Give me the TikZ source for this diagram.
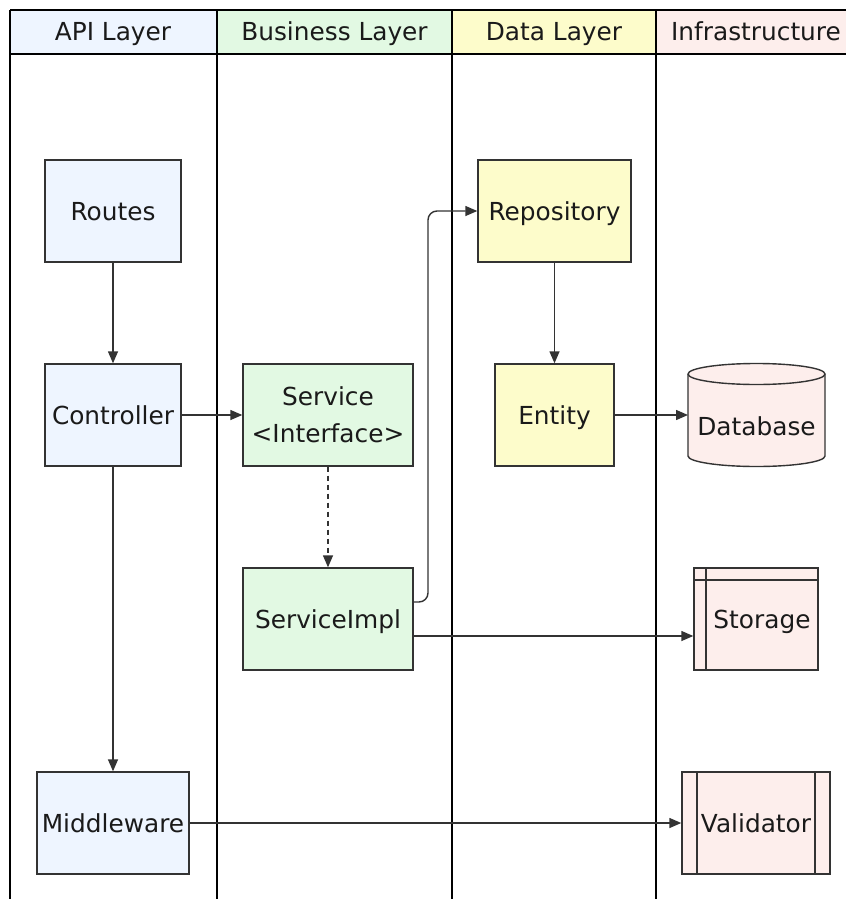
\documentclass[tikz,border=0pt]{standalone}
\usepackage{fontspec}
\setmainfont{DejaVu Sans}
\usetikzlibrary{arrows.meta,calc}
\definecolor{apifill}{HTML}{EEF5FF}
\definecolor{bizfill}{HTML}{E2F9E3}
\definecolor{datafill}{HTML}{FDFCCB}
\definecolor{infrafill}{HTML}{FDEEEC}
\definecolor{ink}{HTML}{333333}
\definecolor{txt}{HTML}{1A1A1A}
\tikzset{
  box/.style={draw=ink, line width=1.4pt, inner sep=0pt, align=center,
    text=txt, font=\fontsize{24.8}{37}\selectfont},
  capc/.style={text height=18pt, text depth=0pt},
  apibox/.style={box, capc, fill=apifill},
  bizbox/.style={box, fill=bizfill},
  databox/.style={box, capc, fill=datafill},
  infrabox/.style={box, capc, fill=infrafill},
  lane/.style={line width=1.3pt, draw=black},
  hdr/.style={text=txt, capc, inner sep=0pt, font=\fontsize{24.8}{28}\selectfont},
  conn/.style={draw=ink, line width=1.4pt, -{Triangle[length=12pt,width=10pt]}},
}
\begin{document}
\begin{tikzpicture}[x=1pt,y=-1pt]
\useasboundingbox (0,0) rectangle (846,899);
\fill[white] (0,0) rectangle (846,899);

% lane headers
\fill[apifill]   (10,10)  rectangle (217,54);
\fill[bizfill]   (217,10) rectangle (452,54);
\fill[datafill]  (452,10) rectangle (656,54);
\fill[infrafill] (656,10) rectangle (846,54);
\node[hdr] (hApi)   at (113,32)   {API Layer};
\node[hdr] (hBiz)   at (334.5,32) {Business Layer};
\node[hdr] (hData)  at (554,32)   {Data Layer};
\node[hdr] (hInfra) at (756,32)   {Infrastructure};
\draw[lane] (10,10) -- (846,10);
\draw[lane] (10,54) -- (846,54);
\foreach \lx in {10,217,452,656} \draw[lane] (\lx,10) -- (\lx,899);

% API layer
\node[apibox, minimum width=136pt, minimum height=102pt] (routes) at (113,211) {Routes};
\node[apibox, minimum width=136pt, minimum height=102pt] (ctrl) at (113,415) {Controller};
\node[apibox, minimum width=152pt, minimum height=102pt] (mw) at (113,823) {Middleware};

% Business layer
\node[bizbox, minimum width=170pt, minimum height=102pt] (svc) at (328,415) {Service\\<Interface>};
\node[bizbox, capc, minimum width=170pt, minimum height=102pt] (simpl) at (328,619) {ServiceImpl};

% Data layer
\node[databox, minimum width=153pt, minimum height=102pt] (repo) at (554.5,211) {Repository};
\node[databox, minimum width=119pt, minimum height=102pt] (entity) at (554.5,415) {Entity};

% Infrastructure: database cylinder
\fill[infrafill, draw=ink, line width=1.4pt]
  (688,374) -- (688,456) arc[x radius=68.5, y radius=10.5, start angle=180, end angle=0]
  -- (825,374) arc[x radius=68.5, y radius=10.5, start angle=0, end angle=-180] -- cycle;
\draw[ink, line width=1.4pt] (688,374) arc[x radius=68.5, y radius=10.5, start angle=180, end angle=0];
\node[box, capc, draw=none, minimum width=137pt, minimum height=80pt] (db) at (756.5,426) {Database};

% Infrastructure: storage
\node[infrabox, minimum width=124pt, minimum height=102pt] (store) at (756,619) {\hspace*{12pt}Storage};
\draw[ink, line width=1.4pt] (706,568) -- (706,670);
\draw[ink, line width=1.4pt] (694,580) -- (818,580);

% Infrastructure: validator
\node[infrabox, minimum width=148pt, minimum height=102pt] (valid) at (756,823) {Validator};
\draw[ink, line width=1.4pt] (697,772) -- (697,874);
\draw[ink, line width=1.4pt] (815,772) -- (815,874);

% connectors
\draw[conn] (routes) -- (ctrl);
\draw[conn] (ctrl) -- (svc);
\draw[conn] (ctrl) -- (mw);
\draw[conn, dashed, dash pattern=on 5pt off 4pt] (svc) -- (simpl);
\draw[conn, rounded corners=9pt] ([yshift=17pt]simpl.east) -- (428,602) -- (428,211) -- (repo.west);
\draw[conn] ([yshift=-17pt]simpl.east) -- ([yshift=-17pt]store.west);
\draw[conn] (repo) -- (entity);
\draw[conn] (entity.east) -- (688,415);
\draw[conn] (mw) -- (valid);
\end{tikzpicture}
\end{document}
